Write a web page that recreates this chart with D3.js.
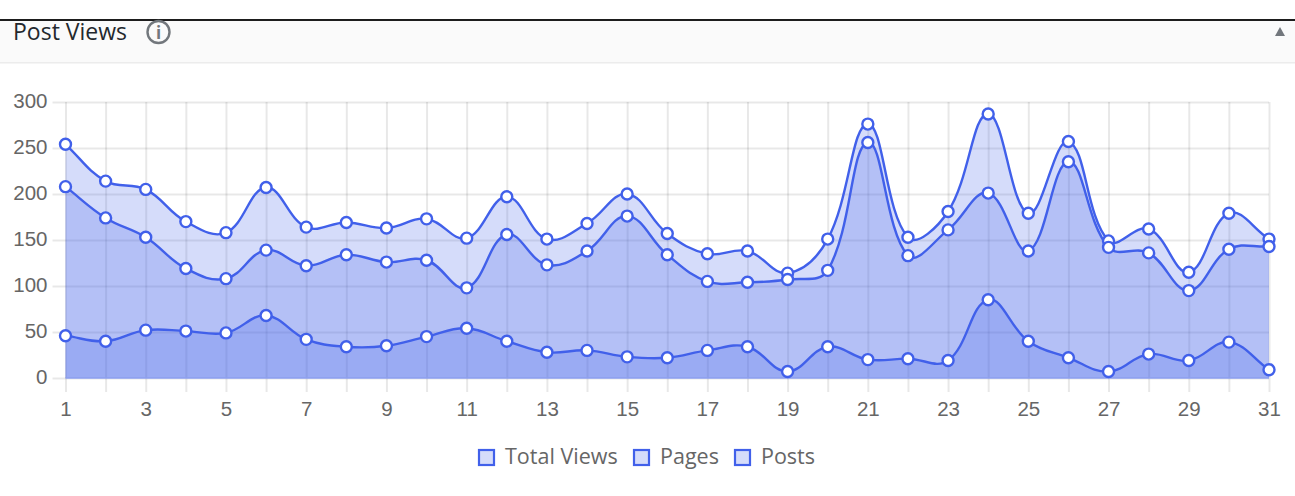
<!DOCTYPE html>
<html>
<head>
<meta charset="utf-8">
<script src="https://cdn.jsdelivr.net/npm/d3@7"></script>
<style>
  html, body { margin: 0; padding: 0; background: #fff; overflow: hidden; }
  svg { display: block; }
  .axis path { display: none; }
  .axis text { font-family: "Liberation Sans", Arial, sans-serif; font-size: 20.5px; fill: #666; }
  .axis line { stroke: rgba(0, 0, 0, 0.09); stroke-width: 2px; }
</style>
</head>
<body>
<div id="chart"></div>
<script>
const days = d3.range(1, 32);
const totalViews = [254, 214, 205, 170, 158, 207, 164, 169, 163, 173, 152, 197, 151, 168, 200, 157, 135, 138, 114, 151, 276, 153, 181, 287, 179, 257, 149, 162, 115, 179, 151];
const pages = [208, 174, 153, 119, 108, 139, 122, 134, 126, 128, 98, 156, 123, 138, 176, 134, 105, 104, 107, 117, 256, 133, 161, 201, 138, 235, 142, 136, 95, 140, 143];
const posts = [46, 40, 52, 51, 49, 68, 42, 34, 35, 45, 54, 40, 28, 30, 23, 22, 30, 34, 7, 34, 20, 21, 19, 85, 40, 22, 7, 26, 19, 39, 9];
const seriesNames = ['Total Views', 'Pages', 'Posts'];
const seriesValues = [totalViews, pages, posts];
const yTicks = [0, 50, 100, 150, 200, 250, 300];

const width = 1295;
const height = 496;
const margin = { top: 102, right: 26, bottom: 118, left: 65.5 };
const blue = '#4160ea';
const fill = 'rgba(65, 96, 234, 0.22)';

const svg = d3.select('#chart')
  .append('svg')
  .attr('width', width)
  .attr('height', height);

// panel header
svg.append('rect').attr('x', 0).attr('y', 20).attr('width', width).attr('height', 43).attr('fill', '#fafafa');
svg.append('rect').attr('x', 0).attr('y', 19).attr('width', width).attr('height', 2).attr('fill', '#1d1d1d');
svg.append('rect').attr('x', 0).attr('y', 62).attr('width', width).attr('height', 1.5).attr('fill', '#ececec');
svg.append('text')
  .attr('x', 13)
  .attr('y', 40)
  .attr('font-family', '"Open Sans", sans-serif')
  .attr('font-size', 23)
  .attr('fill', '#23282d')
  .text('Post Views');

const info = svg.append('g').attr('transform', 'translate(158.5,32)');
info.append('circle').attr('r', 11).attr('fill', 'none').attr('stroke', '#72777c').attr('stroke-width', 2.4);
info.append('text')
  .attr('text-anchor', 'middle')
  .attr('y', 6.5)
  .attr('font-family', '"Open Sans", sans-serif')
  .attr('font-weight', 700)
  .attr('font-size', 17)
  .attr('fill', '#72777c')
  .text('i');

svg.append('path').attr('d', 'M1275,36 L1285,36 L1280,27 Z').attr('fill', '#72777c');

// chart
const x = d3.scalePoint()
  .domain(days)
  .range([margin.left, width - margin.right]);
const y = d3.scaleLinear()
  .domain([0, 300])
  .range([height - margin.bottom, margin.top]);

const xAxis = d3.axisBottom(x)
  .tickSize(-(y(0) - y(300)) - 14)
  .tickPadding(11)
  .tickFormat((d) => (d % 2 ? d : ''));
svg.append('g')
  .attr('class', 'axis')
  .attr('transform', `translate(0,${y(0) + 14})`)
  .call(xAxis)
  .call((g) => g.selectAll('.tick line').attr('y2', -(y(0) - y(300)) - 14))
  .call((g) => g.selectAll('.tick text').attr('y', 9));

const yAxis = d3.axisLeft(y)
  .tickValues(yTicks)
  .tickSize(-(x(31) - x(1)) - 13)
  .tickPadding(5);
svg.append('g')
  .attr('class', 'axis')
  .attr('transform', `translate(${x(1) - 13},0)`)
  .call(yAxis)
  .call((g) => g.selectAll('.tick text').attr('dy', '0.28em'));

// same spline the original chart uses: tension 0.4, weighted by point distance
const splinePath = (pts) => {
  const tension = 0.4;
  const ctrl = pts.map((p, i) => {
    const prev = pts[i - 1] || p;
    const next = pts[i + 1] || p;
    const d01 = Math.hypot(p[0] - prev[0], p[1] - prev[1]);
    const d12 = Math.hypot(next[0] - p[0], next[1] - p[1]);
    const s01 = d01 / (d01 + d12 || 1);
    const s12 = d12 / (d01 + d12 || 1);
    return {
      inX: p[0] - tension * s01 * (next[0] - prev[0]),
      inY: p[1] - tension * s01 * (next[1] - prev[1]),
      outX: p[0] + tension * s12 * (next[0] - prev[0]),
      outY: p[1] + tension * s12 * (next[1] - prev[1]),
    };
  });
  const path = d3.path();
  path.moveTo(pts[0][0], pts[0][1]);
  for (let i = 1; i < pts.length; i += 1) {
    path.bezierCurveTo(ctrl[i - 1].outX, ctrl[i - 1].outY, ctrl[i].inX, ctrl[i].inY, pts[i][0], pts[i][1]);
  }
  return path.toString();
};

seriesValues.forEach((values) => {
  const pts = values.map((v, i) => [x(days[i]), y(v)]);
  const line = splinePath(pts);
  svg.append('path')
    .attr('d', `${line}L${x(31)},${y(0)}L${x(1)},${y(0)}Z`)
    .attr('fill', fill);
  svg.append('path')
    .attr('d', line)
    .attr('fill', 'none')
    .attr('stroke', blue)
    .attr('stroke-width', 2.4);
});

// baseline of the stacked fills
svg.append('line')
  .attr('x1', x(1))
  .attr('x2', x(31))
  .attr('y1', y(0))
  .attr('y2', y(0))
  .attr('stroke', '#8ea1f0')
  .attr('stroke-width', 1.5);

seriesValues.forEach((values) => {
  svg.append('g')
    .selectAll('circle')
    .data(values)
    .enter()
    .append('circle')
    .attr('cx', (d, i) => x(days[i]))
    .attr('cy', (d) => y(d))
    .attr('r', 5.5)
    .attr('fill', '#fff')
    .attr('stroke', blue)
    .attr('stroke-width', 2.4);
});

// legend
const legendX = [479, 634, 735];
const legend = svg.append('g')
  .selectAll('g')
  .data(seriesNames)
  .enter()
  .append('g')
  .attr('transform', (d, i) => `translate(${legendX[i]},450)`);
legend.append('rect')
  .attr('width', 15)
  .attr('height', 15)
  .attr('fill', fill)
  .attr('stroke', blue)
  .attr('stroke-width', 2.2);
legend.append('text')
  .attr('x', 26)
  .attr('y', 14)
  .attr('font-family', '"Open Sans", sans-serif')
  .attr('font-size', 21.5)
  .attr('fill', '#666')
  .text((d) => d);
</script>
</body>
</html>
